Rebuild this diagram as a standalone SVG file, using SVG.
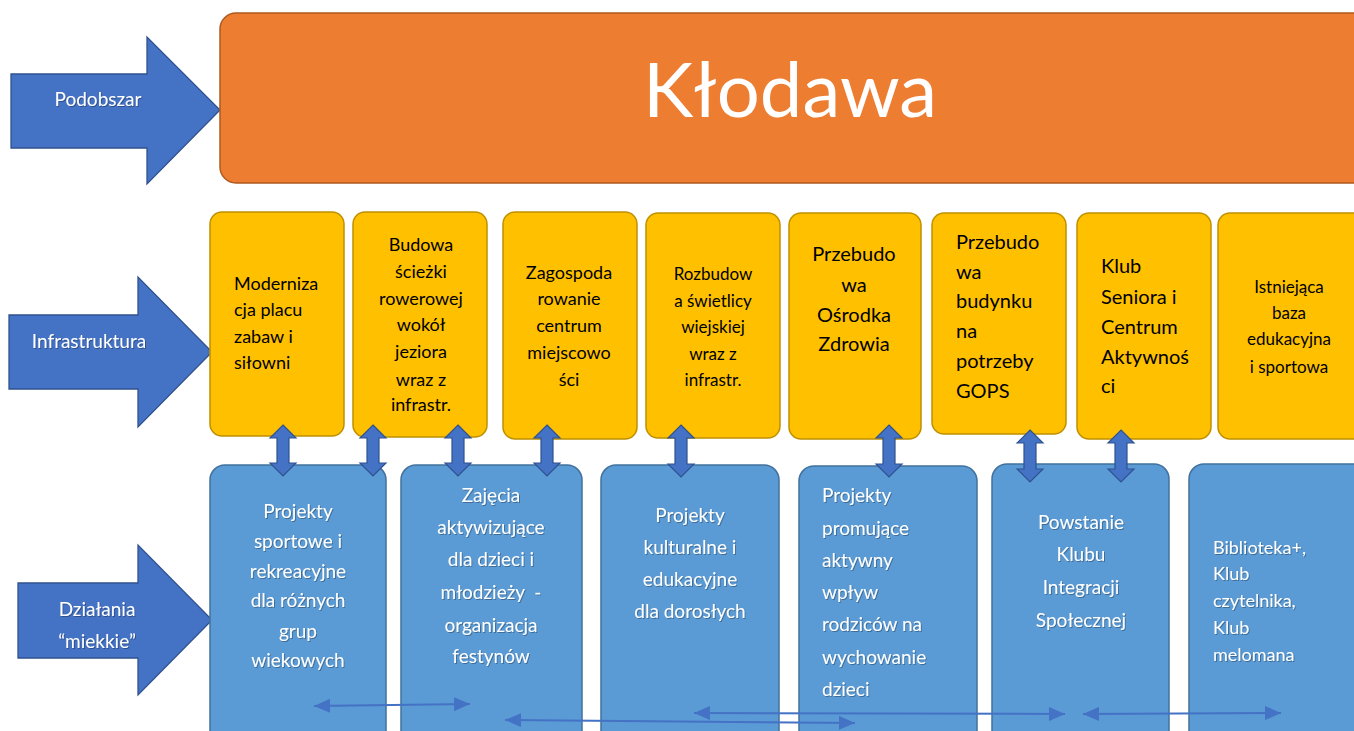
<svg xmlns="http://www.w3.org/2000/svg" width="1354" height="731" viewBox="0 0 1354 731">
<defs>
<style>
.big{fill:#4472C4;stroke:#2F528F;stroke-width:1.3}
.orange{fill:#ED7D31;stroke:#AE5A21;stroke-width:1.5}
.yel{fill:#FFC000;stroke:#BF9000;stroke-width:1.5}
.blu{fill:#5B9BD5;stroke:#41719C;stroke-width:1.5}
.lbl{font-family:Lato,"Liberation Sans",sans-serif;fill:#fff;font-size:19px;text-anchor:middle}
.yt{font-family:Lato,"Liberation Sans",sans-serif;fill:#000;font-size:18px}
.bt{font-family:Lato,"Liberation Sans",sans-serif;fill:#fff;font-size:19px;white-space:pre}
.mid{text-anchor:middle}
.dbl{fill:#4472C4;stroke:#2F528F;stroke-width:1.2}
.hl{stroke:#4472C4;stroke-width:2;fill:none;marker-start:url(#ah);marker-end:url(#ah)}
</style>
<marker id="ah" markerUnits="userSpaceOnUse" markerWidth="16" markerHeight="14" refX="16" refY="7" orient="auto-start-reverse">
<path d="M0,0 L16,7 L0,14 Z" fill="#4472C4"/>
</marker>
<filter id="sh" x="-10%" y="-10%" width="120%" height="130%"><feDropShadow dx="1" dy="1" stdDeviation="0.7" flood-color="#000" flood-opacity="0.3"/></filter>
</defs>

<g id="arrow-podobszar">
<polygon class="big" points="11,74 147,74 147,37 220,110 147,184 147,148 11,148"/>
<text class="lbl" x="98" y="106" filter="url(#sh)">Podobszar</text>
</g>
<g id="arrow-infrastruktura">
<polygon class="big" points="9,315 138,315 138,277 212,352 138,427 138,389 9,389"/>
<text class="lbl" x="89" y="348" filter="url(#sh)">Infrastruktura</text>
</g>
<g id="arrow-dzialania">
<polygon class="big" points="18,583 138,583 138,545 212,620 138,695 138,658 18,658"/>
<text class="lbl" x="97" y="616" filter="url(#sh)">Działania</text>
<text class="lbl" x="97" y="648" filter="url(#sh)">“miekkie”</text>
</g>

<g id="klodawa">
<rect class="orange" x="220" y="13" width="1160" height="170" rx="16"/>
<text x="790" y="117" style="font-family:Lato,'Liberation Sans',sans-serif;font-size:76px;fill:#fff;text-anchor:middle">Kłodawa</text>
</g>

<g id="infra1">
<rect class="yel" x="210" y="212" width="134" height="224" rx="12"/>
<text class="yt" x="234" y="290">Moderniza</text>
<text class="yt" x="234" y="316">cja placu</text>
<text class="yt" x="234" y="343">zabaw i</text>
<text class="yt" x="234" y="369">siłowni</text>
</g>
<g id="infra2">
<rect class="yel" x="353" y="212" width="134" height="225" rx="12"/>
<text class="yt mid" x="421" y="251">Budowa</text>
<text class="yt mid" x="421" y="278">ścieżki</text>
<text class="yt mid" x="421" y="305">rowerowej</text>
<text class="yt mid" x="421" y="331">wokół</text>
<text class="yt mid" x="421" y="358">jeziora</text>
<text class="yt mid" x="421" y="386">wraz z</text>
<text class="yt mid" x="421" y="411">infrastr.</text>
</g>
<g id="infra3">
<rect class="yel" x="503" y="212" width="134" height="227" rx="12"/>
<text class="yt mid" x="569" y="279">Zagospoda</text>
<text class="yt mid" x="569" y="305">rowanie</text>
<text class="yt mid" x="569" y="332">centrum</text>
<text class="yt mid" x="569" y="359">miejscowo</text>
<text class="yt mid" x="569" y="386">ści</text>
</g>
<g id="infra4">
<rect class="yel" x="646" y="213" width="134" height="225" rx="12"/>
<text class="yt mid" x="713" y="280" style="font-size:17px">Rozbudow</text>
<text class="yt mid" x="713" y="307" style="font-size:17px">a świetlicy</text>
<text class="yt mid" x="713" y="333" style="font-size:17px">wiejskiej</text>
<text class="yt mid" x="713" y="360" style="font-size:17px">wraz z</text>
<text class="yt mid" x="713" y="386" style="font-size:17px">infrastr.</text>
</g>
<g id="infra5">
<rect class="yel" x="789" y="213" width="132" height="226" rx="12"/>
<text class="yt mid" x="854" y="261" style="font-size:20px">Przebudo</text>
<text class="yt mid" x="854" y="292" style="font-size:20px">wa</text>
<text class="yt mid" x="854" y="322" style="font-size:20px">Ośrodka</text>
<text class="yt mid" x="854" y="351" style="font-size:20px">Zdrowia</text>
</g>
<g id="infra6">
<rect class="yel" x="932" y="213" width="134" height="221" rx="12"/>
<text class="yt" x="956" y="249" style="font-size:20px">Przebudo</text>
<text class="yt" x="956" y="279" style="font-size:20px">wa</text>
<text class="yt" x="956" y="308" style="font-size:20px">budynku</text>
<text class="yt" x="956" y="338" style="font-size:20px">na</text>
<text class="yt" x="956" y="368" style="font-size:20px">potrzeby</text>
<text class="yt" x="956" y="398" style="font-size:20px">GOPS</text>
</g>
<g id="infra7">
<rect class="yel" x="1077" y="213" width="134" height="226" rx="12"/>
<text class="yt" x="1101" y="273" style="font-size:20px">Klub</text>
<text class="yt" x="1101" y="304" style="font-size:20px">Seniora i</text>
<text class="yt" x="1101" y="334" style="font-size:20px">Centrum</text>
<text class="yt" x="1101" y="364" style="font-size:20px">Aktywnoś</text>
<text class="yt" x="1101" y="393" style="font-size:20px">ci</text>
</g>
<g id="infra8">
<rect class="yel" x="1218" y="213" width="150" height="226" rx="12"/>
<text class="yt mid" x="1289" y="293" style="font-size:17px">Istniejąca</text>
<text class="yt mid" x="1289" y="319" style="font-size:17px">baza</text>
<text class="yt mid" x="1289" y="345" style="font-size:17px">edukacyjna</text>
<text class="yt mid" x="1289" y="373" style="font-size:17px">i sportowa</text>
</g>

<g id="soft1">
<rect class="blu" x="210" y="465" width="176" height="300" rx="15"/>
<g filter="url(#sh)">
<text class="bt mid" x="298" y="518">Projekty</text>
<text class="bt mid" x="298" y="548">sportowe i</text>
<text class="bt mid" x="298" y="578">rekreacyjne</text>
<text class="bt mid" x="298" y="607">dla różnych</text>
<text class="bt mid" x="298" y="638">grup</text>
<text class="bt mid" x="298" y="667">wiekowych</text>
</g>
</g>
<g id="soft2">
<rect class="blu" x="401" y="465" width="181" height="300" rx="15"/>
<g filter="url(#sh)">
<text class="bt mid" x="491" y="502">Zajęcia</text>
<text class="bt mid" x="491" y="534">aktywizujące</text>
<text class="bt mid" x="491" y="566">dla dzieci i</text>
<text class="bt mid" x="491" y="599">młodzieży  -</text>
<text class="bt mid" x="491" y="632">organizacja</text>
<text class="bt mid" x="491" y="663">festynów</text>
</g>
</g>
<g id="soft3">
<rect class="blu" x="601" y="465" width="178" height="300" rx="15"/>
<g filter="url(#sh)">
<text class="bt mid" x="690" y="522">Projekty</text>
<text class="bt mid" x="690" y="554">kulturalne i</text>
<text class="bt mid" x="690" y="586">edukacyjne</text>
<text class="bt mid" x="690" y="618">dla dorosłych</text>
</g>
</g>
<g id="soft4">
<rect class="blu" x="799" y="466" width="178" height="300" rx="15"/>
<g filter="url(#sh)">
<text class="bt" x="822" y="502">Projekty</text>
<text class="bt" x="822" y="535">promujące</text>
<text class="bt" x="822" y="567">aktywny</text>
<text class="bt" x="822" y="599">wpływ</text>
<text class="bt" x="822" y="631">rodziców na</text>
<text class="bt" x="822" y="664">wychowanie</text>
<text class="bt" x="822" y="696">dzieci</text>
</g>
</g>
<g id="soft5">
<rect class="blu" x="992" y="464" width="177" height="300" rx="15"/>
<g filter="url(#sh)">
<text class="bt mid" x="1081" y="529">Powstanie</text>
<text class="bt mid" x="1081" y="561">Klubu</text>
<text class="bt mid" x="1081" y="594">Integracji</text>
<text class="bt mid" x="1081" y="627">Społecznej</text>
</g>
</g>
<g id="soft6">
<rect class="blu" x="1189" y="464" width="180" height="300" rx="15"/>
<g filter="url(#sh)">
<text class="bt" x="1213" y="554" style="font-size:18px">Biblioteka+,</text>
<text class="bt" x="1213" y="580" style="font-size:18px">Klub</text>
<text class="bt" x="1213" y="607" style="font-size:18px">czytelnika,</text>
<text class="bt" x="1213" y="634" style="font-size:18px">Klub</text>
<text class="bt" x="1213" y="661" style="font-size:18px">melomana</text>
</g>
</g>

<g id="connectors">
<polygon class="dbl" points="283,425 296,438 289,438 289,463 296,463 283,476 270,463 277,463 277,438 270,438"/>
<polygon class="dbl" points="373,425 386,438 379,438 379,463 386,463 373,476 360,463 367,463 367,438 360,438"/>
<polygon class="dbl" points="458,425 471,438 464,438 464,463 471,463 458,476 445,463 452,463 452,438 445,438"/>
<polygon class="dbl" points="547,425 560,438 553,438 553,463 560,463 547,476 534,463 541,463 541,438 534,438"/>
<polygon class="dbl" points="681,425 694,438 687,438 687,464 694,464 681,477 668,464 675,464 675,438 668,438"/>
<polygon class="dbl" points="889,425 902,438 895,438 895,464 902,464 889,477 876,464 883,464 883,438 876,438"/>
<polygon class="dbl" points="1030,430 1043,443 1036,443 1036,469 1043,469 1030,482 1017,469 1024,469 1024,443 1017,443"/>
<polygon class="dbl" points="1121,430 1134,443 1127,443 1127,469 1134,469 1121,482 1108,469 1115,469 1115,443 1108,443"/>
<line class="hl" x1="314" y1="706" x2="470" y2="704"/>
<line class="hl" x1="505" y1="720" x2="855" y2="723"/>
<line class="hl" x1="694" y1="713" x2="1065" y2="714"/>
<line class="hl" x1="1083" y1="714" x2="1281" y2="713"/>
</g>
</svg>
